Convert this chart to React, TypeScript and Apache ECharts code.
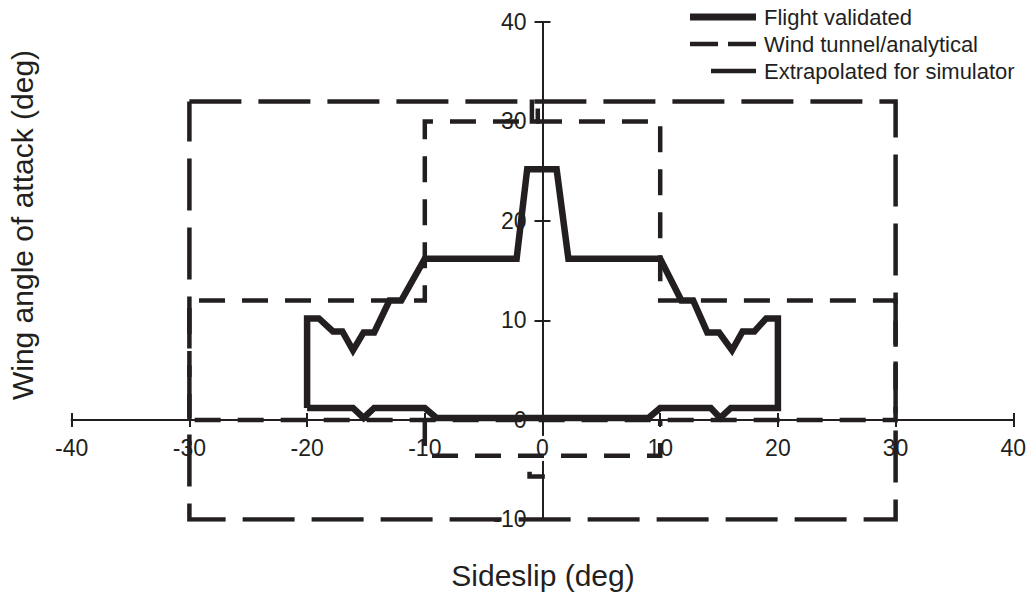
import React, { useEffect, useRef } from 'react';
import * as echarts from 'echarts';

const INK = '#231f20';
const FONT = '"Liberation Sans", Arial, Helvetica, sans-serif';

const xRange = [-40, 40];
const yRange = [-10, 40];
const tickStep = 10;

const seriesNames = ['Flight validated', 'Wind tunnel/analytical', 'Extrapolated for simulator'];
const xTitle = 'Sideslip (deg)';
const yTitle = 'Wing angle of attack (deg)';

const flightValidated: [number, number][] = [
  [-20, 1.2], [-20, 10.2], [-19, 10.2], [-17.8, 8.9], [-17, 8.9], [-16.1, 7], [-15.2, 8.8], [-14.3, 8.8],
  [-13, 12], [-12, 12], [-10, 16.2], [-2.2, 16.2], [-1.3, 25.2], [1.2, 25.2], [2.2, 16.2], [10, 16.2],
  [11.8, 12], [12.8, 12], [14, 8.8], [15, 8.8], [16.1, 7], [17, 8.9], [18, 8.9], [19, 10.2], [20, 10.2],
  [20, 1.2], [16, 1.2], [15.1, 0.2], [14.3, 1.2], [10, 1.2], [9, 0.2], [-9, 0.2], [-10, 1.2],
  [-14.3, 1.2], [-15.2, 0.2], [-16.1, 1.2], [-20, 1.2],
];

const windTunnelUpper: [number, number][] = [
  [-30, 0], [-30, 12], [-10, 12], [-10, 30], [10, 30], [10, 12], [30, 12], [30, 0], [-30, 0],
];
const windTunnelLower: [number, number][] = [
  [-10, 0], [-10, -3.6], [10, -3.6], [10, 0],
];
const windTunnelMarkTop: [number, number][] = [
  [-0.9, 32.2], [-0.9, 30], [-0.4, 30], [-0.4, 31.3],
];
const windTunnelMarkBottom: [number, number][] = [
  [-1.1, -5.2], [-1.1, -5.7], [0.2, -5.7],
];

const extrapolated: [number, number][] = [
  [-30, 32], [30, 32], [30, -10], [-30, -10], [-30, 32],
];

const WT_DASH = [26, 17];
const EX_DASH = [52, 17];

function lineSeries(name: string, data: [number, number][], width: number, dash: any) {
  return {
    type: 'line',
    name,
    data,
    xAxisIndex: 0,
    yAxisIndex: 0,
    symbol: 'none',
    showSymbol: false,
    silent: true,
    z: 3,
    lineStyle: { color: INK, width, type: dash, cap: 'butt', join: 'miter' },
  };
}

export default function App() {
  const ref = useRef<HTMLDivElement>(null);
  useEffect(() => {
    if (!ref.current) return;
    const chart = echarts.init(ref.current, undefined, { renderer: 'svg' });
    const W = 1032;
    const H = 593;
    const L = 71.7, R = 18.7, T = 22, B = 73.6;
    const plotW = W - L - R;
    const plotH = H - T - B;
    const zeroY = T + plotH * (yRange[1] - 0) / (yRange[1] - yRange[0]);
    const zeroX = L + plotW * (0 - xRange[0]) / (xRange[1] - xRange[0]);

    const axisLineStyle = { color: INK, width: 2 };
    const labelStyle = { color: INK, fontSize: 23, fontFamily: FONT };
    const hiddenAxis = (gridIndex: number) => ({ type: 'value', gridIndex, show: false, min: 0, max: 1 });
    const xBase = { type: 'value', min: xRange[0], max: xRange[1], interval: tickStep, splitLine: { show: false } };
    const yBase = { type: 'value', min: yRange[0], max: yRange[1], interval: tickStep, splitLine: { show: false } };

    const legendX1 = 690;
    const legendX2 = 756;
    const legendTextX = 764;
    const rows = [17, 44, 71];
    chart.setOption({
      animation: false,
      backgroundColor: '#ffffff',
      grid: [
        { left: L, right: R, top: T, bottom: B, containLabel: false },
        { left: L, right: R, top: T, bottom: H - zeroY, containLabel: false },
        { left: L, right: R, top: zeroY, bottom: B, containLabel: false },
        { left: zeroX, right: R, top: T, bottom: B, containLabel: false },
        { left: L, right: W - zeroX, top: T, bottom: B, containLabel: false },
      ],
      xAxis: [
        { ...xBase, gridIndex: 0, show: false },
        {
          ...xBase, gridIndex: 1, position: 'bottom', z: 1,
          axisLine: { onZero: false, lineStyle: axisLineStyle },
          axisTick: { length: 7, lineStyle: axisLineStyle },
          axisLabel: { ...labelStyle, margin: 16, backgroundColor: '#ffffff', padding: [1, 2] },
        },
        {
          ...xBase, gridIndex: 2, position: 'top', z: 1,
          axisLine: { onZero: false, lineStyle: axisLineStyle },
          axisTick: { length: 7, lineStyle: axisLineStyle },
          axisLabel: { show: false },
        },
        hiddenAxis(3),
        hiddenAxis(4),
      ],
      yAxis: [
        { ...yBase, gridIndex: 0, show: false },
        hiddenAxis(1),
        hiddenAxis(2),
        {
          ...yBase, gridIndex: 3, position: 'left', z: 0,
          axisLine: { onZero: false, lineStyle: axisLineStyle },
          axisTick: { length: 8, lineStyle: axisLineStyle },
          axisLabel: { ...labelStyle, margin: 16 },
        },
        {
          ...yBase, gridIndex: 4, position: 'right', z: 0,
          axisLine: { onZero: false, lineStyle: axisLineStyle },
          axisTick: { length: 8, lineStyle: axisLineStyle },
          axisLabel: { show: false },
        },
      ],
      series: [
        lineSeries(seriesNames[2], extrapolated, 4.5, EX_DASH),
        lineSeries(seriesNames[1], windTunnelUpper, 4.5, WT_DASH),
        lineSeries(seriesNames[1], windTunnelLower, 4.5, WT_DASH),
        lineSeries(seriesNames[1], windTunnelMarkTop, 4.5, 'solid'),
        lineSeries(seriesNames[1], windTunnelMarkBottom, 4.5, 'solid'),
        lineSeries(seriesNames[0], flightValidated, 6.5, 'solid'),
      ],
      graphic: [
        {
          type: 'text', x: 543, y: 575, silent: true,
          style: { text: xTitle, fill: INK, font: `30px ${FONT}`, align: 'center', verticalAlign: 'middle' },
        },
        {
          type: 'text', x: 22, y: 225, rotation: Math.PI / 2, silent: true,
          style: { text: yTitle, fill: INK, font: `30px ${FONT}`, align: 'center', verticalAlign: 'middle' },
        },
        {
          type: 'line', silent: true,
          shape: { x1: legendX1, y1: rows[0], x2: legendX2, y2: rows[0] },
          style: { stroke: INK, lineWidth: 7 },
        },
        {
          type: 'line', silent: true,
          shape: { x1: legendX1, y1: rows[1], x2: legendX2, y2: rows[1] },
          style: { stroke: INK, lineWidth: 4.5, lineDash: [28, 10] },
        },
        {
          type: 'line', silent: true,
          shape: { x1: legendX1 + 21, y1: rows[2], x2: legendX2, y2: rows[2] },
          style: { stroke: INK, lineWidth: 4.5 },
        },
        ...seriesNames.map((n, i) => ({
          type: 'text', x: legendTextX, y: rows[i], silent: true,
          style: { text: n, fill: INK, font: `22px ${FONT}`, align: 'left', verticalAlign: 'middle' },
        })),
      ],
    });
    return () => chart.dispose();
  }, []);
  return <div ref={ref} style={{ position: 'absolute', left: 0, top: 0, width: 1032, height: 593 }} />;
}
